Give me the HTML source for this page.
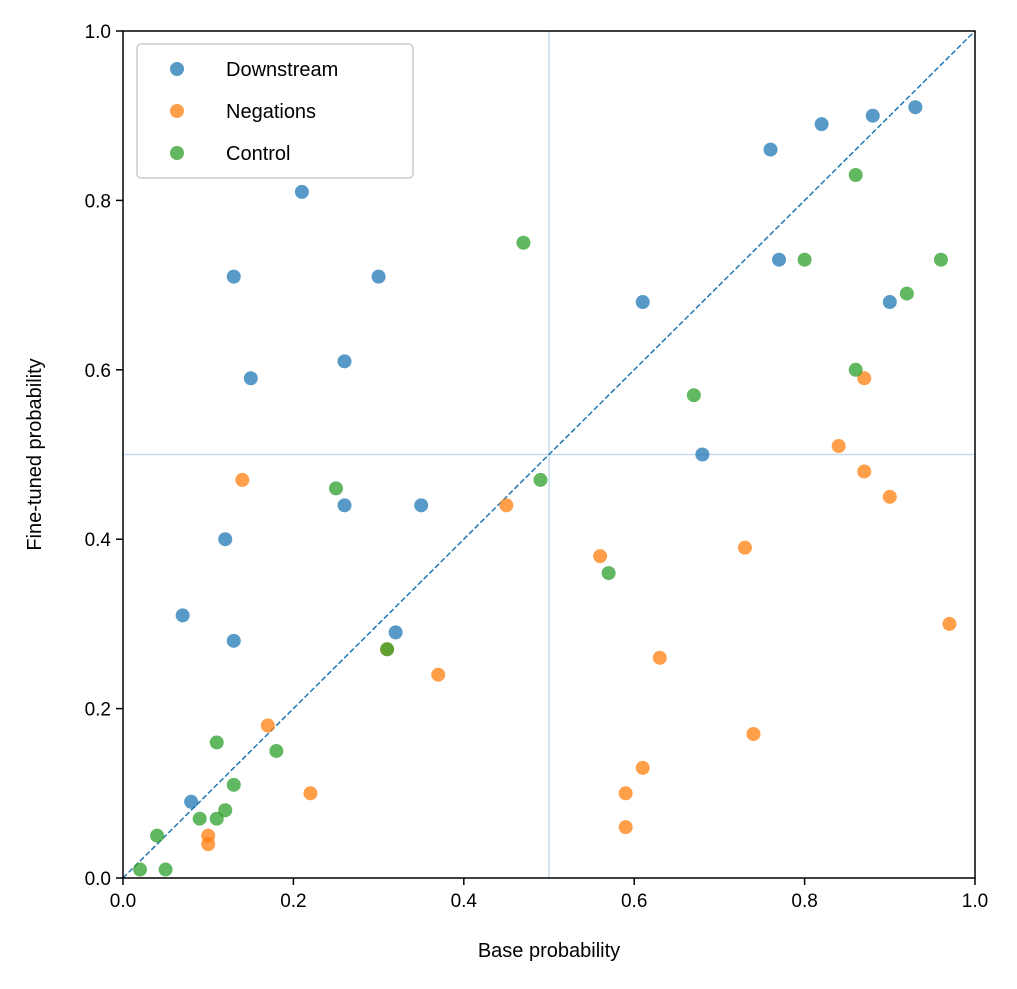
<!DOCTYPE html>
<html><head><meta charset="utf-8"><style>
body{margin:0;background:#fff;}
svg text{font-family:"Liberation Sans","DejaVu Sans",sans-serif;fill:#000;}
</style></head><body>
<svg id="chart" width="1017" height="984" xmlns="http://www.w3.org/2000/svg">
<g id="plot"></g>
</svg>
<script>
const downX=[0.21,0.13,0.30,0.15,0.26,0.26,0.35,0.12,0.07,0.13,0.32,0.08,0.61,0.68,0.76,0.77,0.82,0.88,0.93,0.90];
const downY=[0.81,0.71,0.71,0.59,0.61,0.44,0.44,0.40,0.31,0.28,0.29,0.09,0.68,0.50,0.86,0.73,0.89,0.90,0.91,0.68];
const negX=[0.14,0.45,0.17,0.22,0.10,0.10,0.37,0.31,0.56,0.59,0.59,0.61,0.63,0.73,0.74,0.84,0.87,0.87,0.90,0.97];
const negY=[0.47,0.44,0.18,0.10,0.05,0.04,0.24,0.27,0.38,0.10,0.06,0.13,0.26,0.39,0.17,0.51,0.59,0.48,0.45,0.30];
const ctrlX=[0.47,0.86,0.80,0.96,0.92,0.86,0.67,0.49,0.25,0.57,0.31,0.11,0.18,0.13,0.09,0.11,0.12,0.04,0.02,0.05];
const ctrlY=[0.75,0.83,0.73,0.73,0.69,0.60,0.57,0.47,0.46,0.36,0.27,0.16,0.15,0.11,0.07,0.07,0.08,0.05,0.01,0.01];
const ticks=[0,0.2,0.4,0.6,0.8,1.0];
const tickLabels=["0.0","0.2","0.4","0.6","0.8","1.0"];

const L=123,R=975,T=31,B=878;
const sx=v=>L+v*(R-L), sy=v=>B-v*(B-T);
const NS="http://www.w3.org/2000/svg";
const g=document.getElementById('plot');
function mk(tag,attrs,parent){const e=document.createElementNS(NS,tag);for(const k in attrs)e.setAttribute(k,attrs[k]);(parent||g).appendChild(e);return e;}

let e;
e=mk('line',{x1:sx(0.5),x2:sx(0.5),y1:T,y2:B,stroke:'#c6dbef','stroke-width':1.5});


e=mk('line',{x1:L,x2:R,y1:sy(0.5),y2:sy(0.5),stroke:'#c6dbef','stroke-width':1.5});


e=mk('line',{x1:sx(0),y1:sy(0),x2:sx(1),y2:sy(1),stroke:'#1f77b4','stroke-width':1.5,'stroke-dasharray':'5.5,2.5'});



function series(xs,ys,color,name){
  const sg=mk('g',{});
  
  
  for(let i=0;i<xs.length;i++){
    const c=mk('circle',{cx:sx(xs[i]),cy:sy(ys[i]),r:7,fill:color,'fill-opacity':0.75},sg);
    
    
  }
}
series(downX,downY,'#1f77b4','downstream');
series(negX,negY,'#ff7f0e','negations');
series(ctrlX,ctrlY,'#2ca02c','control');

e=mk('rect',{x:L,y:T,width:R-L,height:B-T,fill:'none',stroke:'#000','stroke-width':1.5});



for(let i=0;i<ticks.length;i++){
  const x=sx(ticks[i]),y=sy(ticks[i]);
  mk('line',{x1:x,x2:x,y1:B,y2:B+7,stroke:'#000','stroke-width':1.5});
  e=mk('text',{x:x,y:B+29,'text-anchor':'middle','font-size':19});
  e.textContent=tickLabels[i];
  
  
  mk('line',{x1:L-7,x2:L,y1:y,y2:y,stroke:'#000','stroke-width':1.5});
  e=mk('text',{x:L-12,y:y+7,'text-anchor':'end','font-size':19});
  e.textContent=tickLabels[i];
  
  
}
e=mk('text',{x:(L+R)/2,y:957,'text-anchor':'middle','font-size':20});
e.textContent='Base probability';


e=mk('text',{x:0,y:0,'text-anchor':'middle','font-size':20,transform:`translate(41,${(T+B)/2}) rotate(-90)`});
e.textContent='Fine-tuned probability';



const lg=mk('g',{});


mk('rect',{x:137,y:44,width:276,height:134,rx:4,fill:'#fff','fill-opacity':0.8,stroke:'#ccc','stroke-width':1.5},lg);
const labs=['Downstream','Negations','Control'],cols=['#1f77b4','#ff7f0e','#2ca02c'];
for(let i=0;i<3;i++){
  const eg=mk('g',{},lg);
  
  
  mk('circle',{cx:177,cy:69+i*42,r:7,fill:cols[i],'fill-opacity':0.75},eg);
  const t=mk('text',{x:226,y:76+i*42,'font-size':20},eg);
  t.textContent=labs[i];
}
</script>
</body></html>
